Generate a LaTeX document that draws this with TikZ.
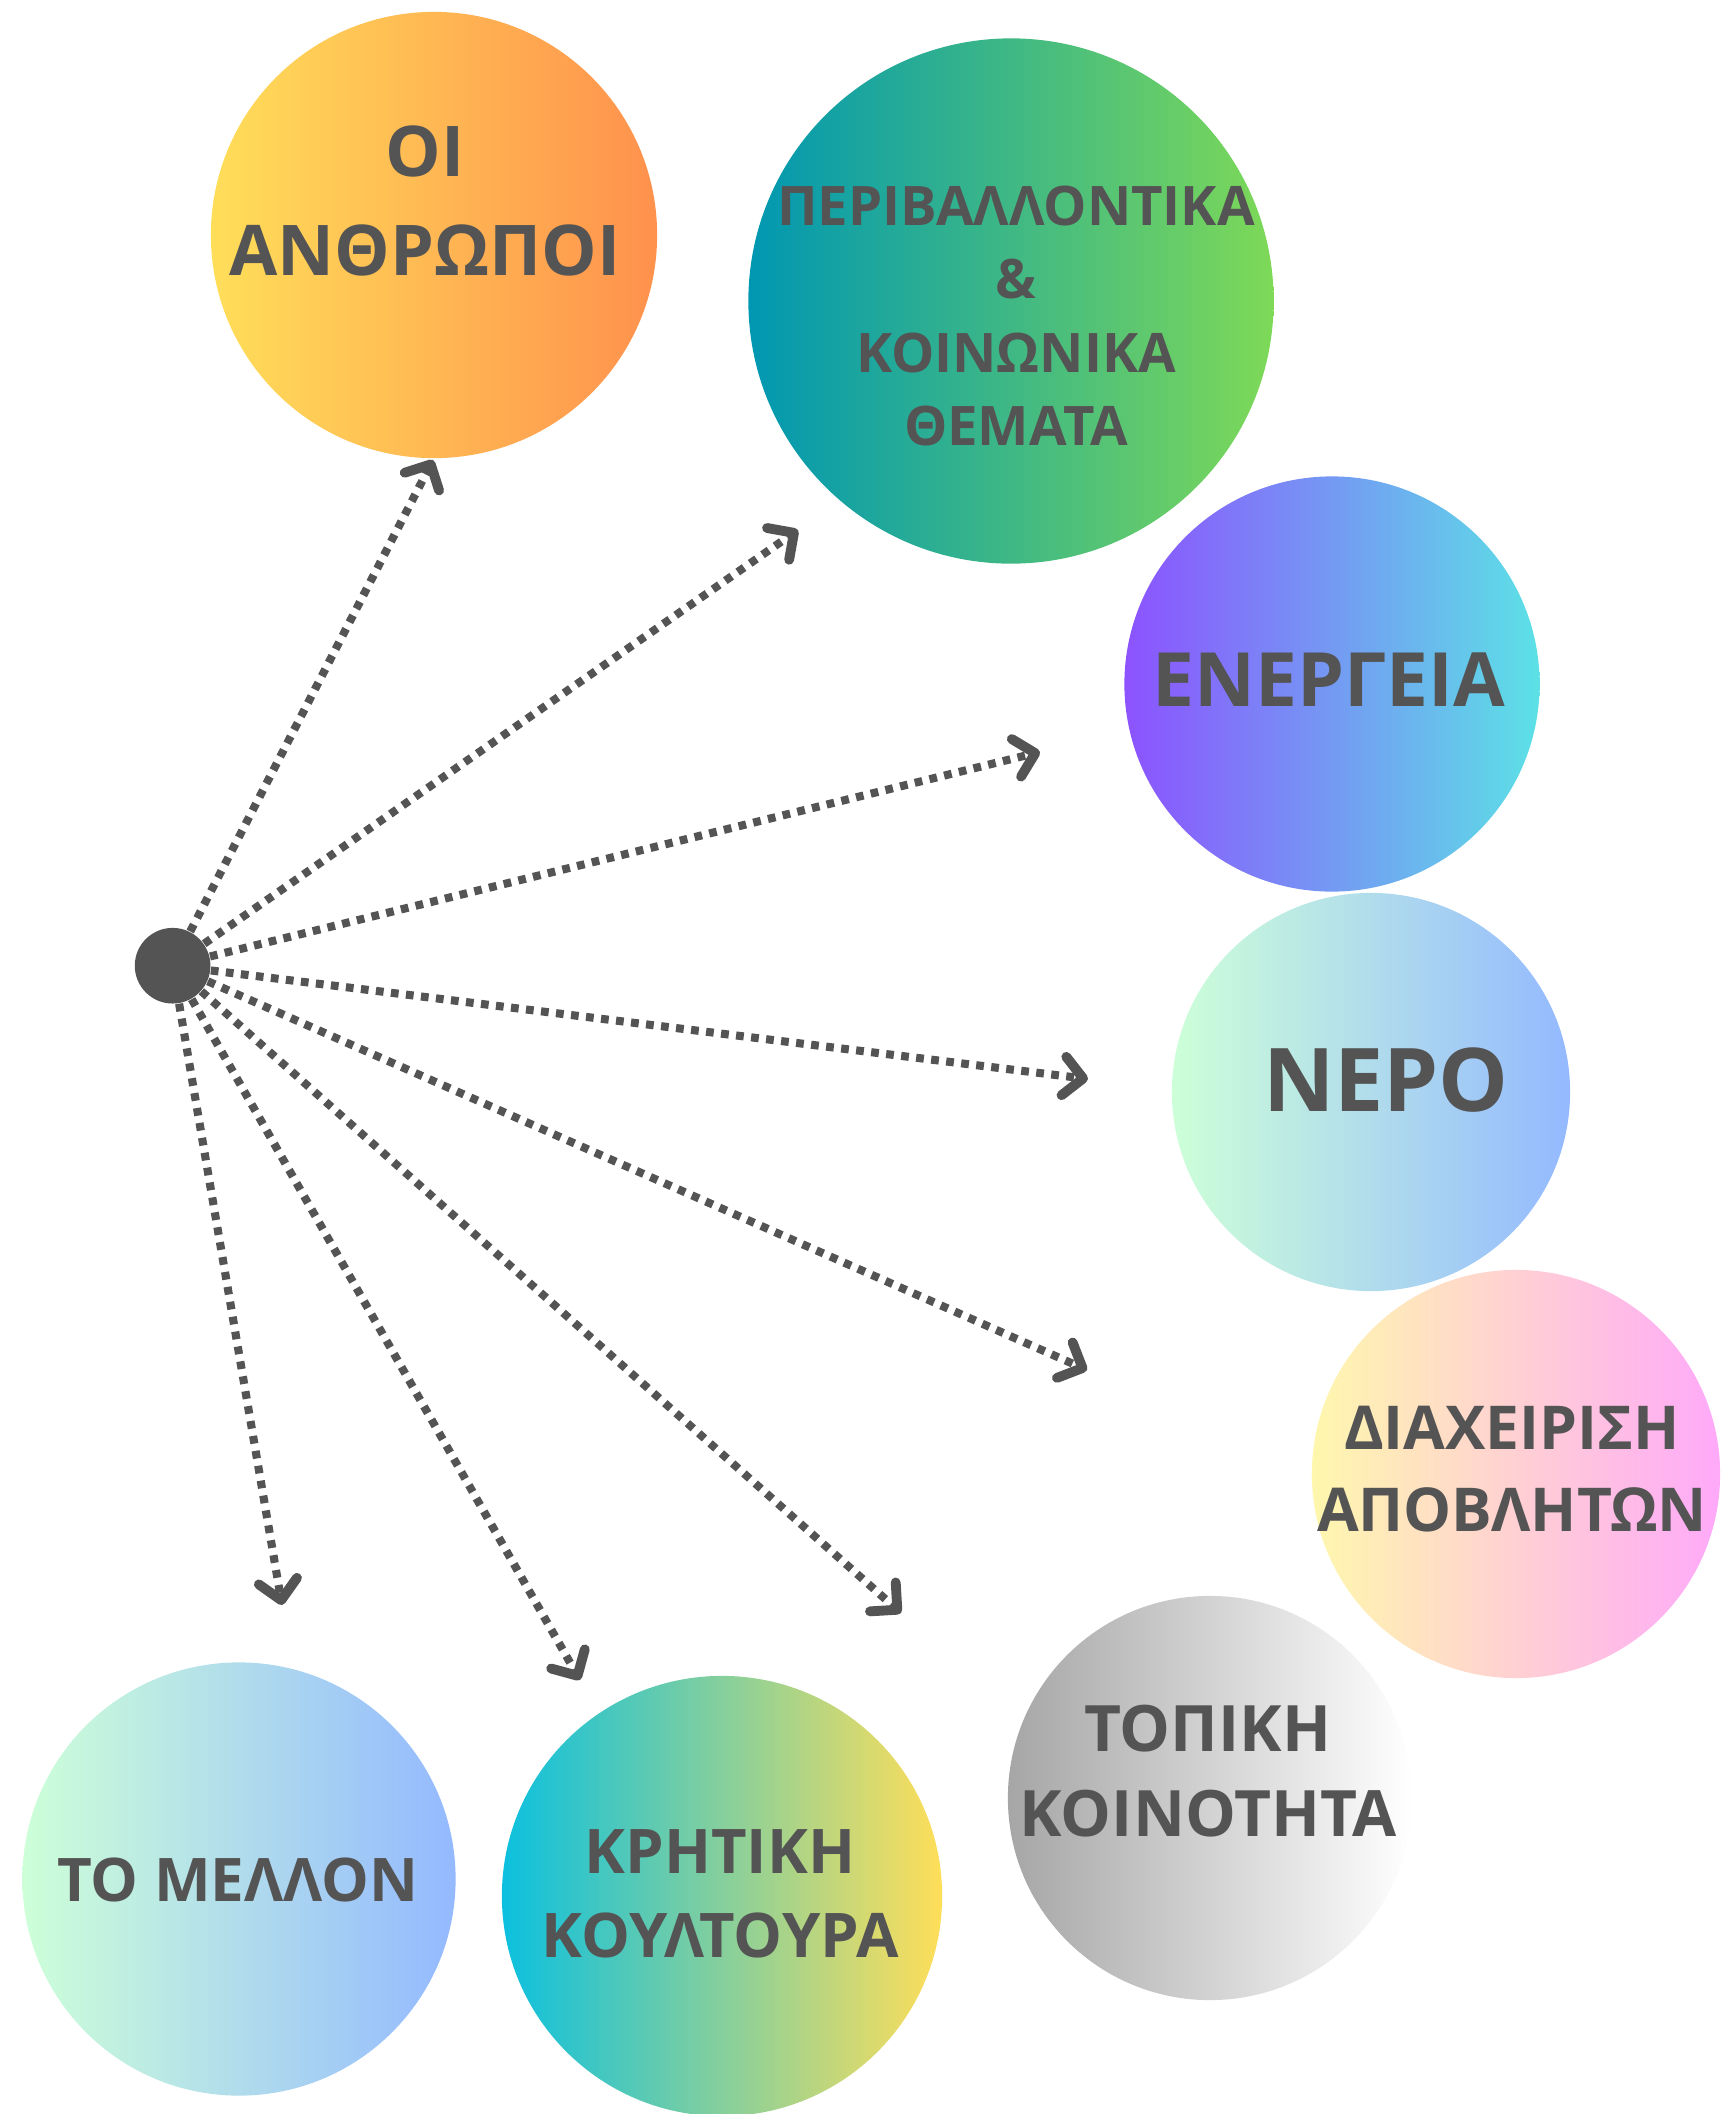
\documentclass[tikz,border=0pt]{standalone}
\usepackage{fontspec}
\setmainfont{Open Sans}
\usetikzlibrary{arrows.meta}
\definecolor{ink}{HTML}{545454}
\definecolor{sunA}{HTML}{FFDE59}
\definecolor{sunB}{HTML}{FF914D}
\definecolor{seaA}{HTML}{0097B2}
\definecolor{seaB}{HTML}{7ED957}
\definecolor{vioA}{HTML}{8C52FF}
\definecolor{vioB}{HTML}{5CE1E6}
\definecolor{mintA}{HTML}{CDFFD8}
\definecolor{mintB}{HTML}{94B9FF}
\definecolor{pinkA}{HTML}{FFF7AD}
\definecolor{pinkB}{HTML}{FFA9F9}
\definecolor{greyA}{HTML}{A6A6A6}
\definecolor{cyanA}{HTML}{0CC0DF}
\begin{document}
\begin{tikzpicture}[x=0.01cm,y=-0.01cm,
  bubble/.style={circle,inner sep=0pt,minimum size=#1},
  lbl/.style 2 args={text=ink,align=center,inner sep=0pt,font=\bfseries\fontsize{#1}{#2}\selectfont},
  link/.style={draw=ink,line width=2.3pt,dash pattern=on 2.2pt off 2.1pt,
    -{Straight Barb[length=5.5pt,width=11pt,round,line width=0.5pt 1]}}]
\useasboundingbox (0,0) rectangle (1729,2114);
% circles
\node[bubble=4.46cm,left color=sunA,right color=sunB] (people) at (434,235) {};
\node[bubble=5.25cm,left color=seaA,right color=seaB] (env) at (1011,301) {};
\node[bubble=4.15cm,left color=vioA,right color=vioB] (energy) at (1332,684) {};
\node[bubble=3.98cm,left color=mintA,right color=mintB] (water) at (1371,1092) {};
\node[bubble=4.08cm,left color=pinkA,right color=pinkB] (waste) at (1516,1474) {};
\node[bubble=4.04cm,left color=greyA,right color=white] (local) at (1210,1798) {};
\node[bubble=4.40cm,left color=cyanA,right color=sunA] (crete) at (722,1896) {};
\node[bubble=4.33cm,left color=mintA,right color=mintB] (future) at (239,1879) {};
\node[circle,fill=ink,inner sep=0pt,minimum size=0.756cm] (hub) at (172.6,965.7) {};
% texts
\node[lbl={19.9}{27.9}] (people-t) at (425,201) {ΟΙ\\ΑΝΘΡΩΠΟΙ};
\node[lbl={15.5}{20.8}] (env-t) at (1016,316) {ΠΕΡΙΒΑΛΛΟΝΤΙΚΑ\\\&\\ΚΟΙΝΩΝΙΚΑ\\ΘΕΜΑΤΑ};
\node[lbl={21.3}{25}] (energy-t) at (1329,680) {ΕΝΕΡΓΕΙΑ};
\node[lbl={25}{30}] (water-t) at (1386,1080) {ΝΕΡΟ};
\node[lbl={17.2}{23.3}] (waste-t) at (1512,1469) {ΔΙΑΧΕΙΡΙΣΗ\\ΑΠΟΒΛΗΤΩΝ};
\node[lbl={18.2}{24.4}] (local-t) at (1208,1771) {ΤΟΠΙΚΗ\\ΚΟΙΝΟΤΗΤΑ};
\node[lbl={17.5}{23.9}] (crete-t) at (720,1894) {ΚΡΗΤΙΚΗ\\ΚΟΥΛΤΟΥΡΑ};
\node[lbl={17.1}{20}] (future-t) at (238,1880) {ΤΟ ΜΕΛΛΟΝ};
% arrow ends
\coordinate (e1) at (433,460);
\coordinate (e2) at (798,530);
\coordinate (e3) at (1040,752);
\coordinate (e4) at (1088,1079);
\coordinate (e5) at (1087,1370);
\coordinate (e6) at (901,1613);
\coordinate (e7) at (580,1680);
\coordinate (e8) at (282,1605);
\draw[link] (hub) -- (e1);
\draw[link] (hub) -- (e2);
\draw[link] (hub) -- (e3);
\draw[link] (hub) -- (e4);
\draw[link] (hub) -- (e5);
\draw[link] (hub) -- (e6);
\draw[link] (hub) -- (e7);
\draw[link] (hub) -- (e8);
\end{tikzpicture}
\end{document}
